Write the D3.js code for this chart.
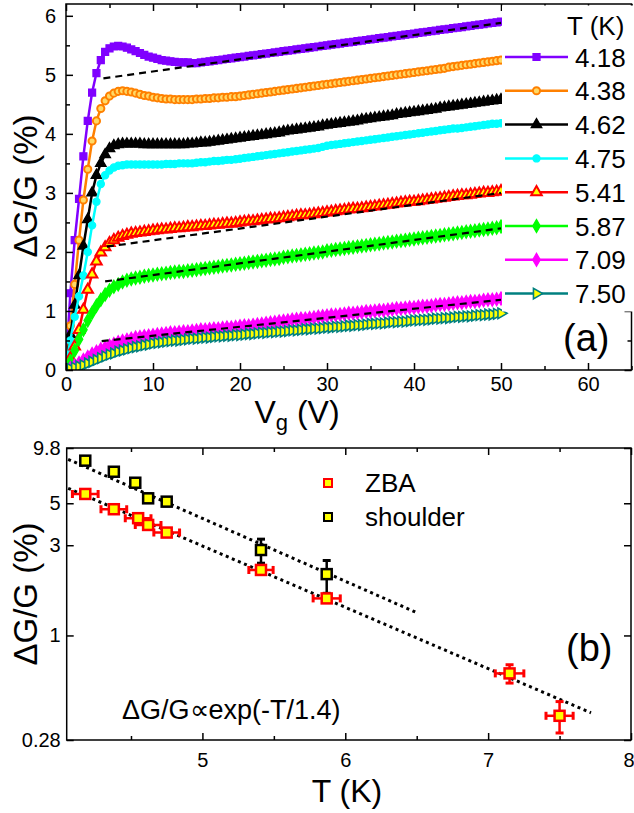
<!DOCTYPE html>
<html><head><meta charset="utf-8">
<script src="https://cdn.jsdelivr.net/npm/d3@7"></script>
<style>
body{margin:0;background:#fff}
svg{display:block}
text{font-family:Arial,"Liberation Sans",Helvetica,sans-serif;fill:#000}
</style>
</head><body>
<svg id="c" width="634" height="813"></svg>
<script>
// ---------------- DATA (panel a) ----------------
const vg = [0,0.5,1,1.5,2,2.5,3,3.5,4,4.5,5,5.5,6,6.5,7,7.5,8,8.5,9,9.5,10,10.5,11,11.5,12,12.5,13,13.5,14,14.5,15,15.5,16,16.5,17,17.5,18,18.5,19,19.5,20,20.5,21,21.5,22,22.5,23,23.5,24,24.5,25,25.5,26,26.5,27,27.5,28,28.5,29,29.5,30,30.5,31,31.5,32,32.5,33,33.5,34,34.5,35,35.5,36,36.5,37,37.5,38,38.5,39,39.5,40,40.5,41,41.5,42,42.5,43,43.5,44,44.5,45,45.5,46,46.5,47,47.5,48,48.5,49,49.5,50];
const temps = ["4.18","4.38","4.62","4.75","5.41","5.87","7.09","7.50"];
const g418 = [0.10,1.30,2.20,2.90,3.62,4.22,4.70,5.03,5.25,5.39,
 5.45,5.48,5.49,5.48,5.46,5.43,5.40,5.37,5.34,5.31,
 5.29,5.27,5.25,5.24,5.23,5.22,5.21,5.21,5.21,5.20,
 5.20,5.21,5.22,5.23,5.24,5.25,5.26,5.27,5.28,5.29,
 5.30,5.31,5.32,5.33,5.34,5.35,5.36,5.37,5.38,5.39,
 5.40,5.41,5.42,5.43,5.44,5.45,5.46,5.47,5.48,5.49,
 5.50,5.51,5.52,5.53,5.54,5.55,5.56,5.57,5.58,5.59,
 5.60,5.61,5.62,5.63,5.64,5.65,5.66,5.67,5.68,5.69,
 5.70,5.71,5.72,5.73,5.74,5.75,5.76,5.77,5.78,5.79,
 5.80,5.81,5.82,5.83,5.84,5.85,5.86,5.87,5.88,5.89,5.90];
const g438 = [0.15,0.75,1.45,2.20,2.88,3.40,3.88,4.22,4.43,4.56,
 4.64,4.69,4.72,4.73,4.72,4.71,4.69,4.67,4.65,4.64,
 4.62,4.61,4.60,4.59,4.59,4.58,4.58,4.58,4.58,4.58,
 4.59,4.59,4.60,4.60,4.61,4.61,4.62,4.62,4.63,4.63,
 4.64,4.65,4.66,4.67,4.68,4.69,4.70,4.71,4.72,4.73,
 4.74,4.75,4.76,4.77,4.78,4.79,4.80,4.81,4.82,4.83,
 4.84,4.85,4.86,4.87,4.88,4.89,4.90,4.91,4.92,4.93,
 4.94,4.95,4.96,4.97,4.98,4.99,5.00,5.01,5.02,5.03,
 5.04,5.05,5.06,5.07,5.08,5.09,5.10,5.11,5.13,5.14,
 5.15,5.16,5.17,5.18,5.19,5.20,5.21,5.22,5.23,5.24,5.25];
const g462 = [0.10,0.60,1.10,1.60,2.10,2.55,3.00,3.30,3.50,3.65,
 3.75,3.80,3.82,3.83,3.83,3.83,3.83,3.83,3.82,3.82,
 3.82,3.82,3.82,3.82,3.82,3.82,3.82,3.82,3.83,3.83,
 3.84,3.85,3.85,3.86,3.87,3.88,3.89,3.90,3.91,3.92,
 3.93,3.94,3.95,3.96,3.97,3.98,3.99,4.00,4.01,4.02,
 4.04,4.05,4.06,4.07,4.08,4.09,4.10,4.11,4.12,4.14,
 4.15,4.16,4.17,4.18,4.19,4.20,4.21,4.22,4.24,4.25,
 4.26,4.27,4.28,4.29,4.30,4.31,4.33,4.34,4.35,4.36,
 4.37,4.38,4.39,4.40,4.41,4.42,4.44,4.45,4.46,4.47,
 4.48,4.49,4.50,4.51,4.52,4.53,4.54,4.55,4.56,4.57,4.58];
const g475 = [0.10,0.50,0.90,1.25,1.60,2.00,2.45,2.85,3.15,3.30,
 3.38,3.43,3.46,3.47,3.48,3.48,3.48,3.48,3.48,3.48,
 3.48,3.48,3.48,3.49,3.49,3.49,3.50,3.50,3.50,3.50,
 3.51,3.52,3.52,3.53,3.54,3.54,3.55,3.56,3.56,3.57,
 3.58,3.59,3.60,3.61,3.62,3.63,3.64,3.65,3.66,3.67,
 3.68,3.69,3.70,3.71,3.72,3.73,3.74,3.75,3.76,3.78,
 3.80,3.81,3.82,3.83,3.84,3.85,3.86,3.87,3.88,3.89,
 3.90,3.91,3.92,3.93,3.94,3.95,3.96,3.97,3.98,3.99,
 4.00,4.01,4.02,4.03,4.04,4.05,4.06,4.07,4.08,4.09,
 4.09,4.10,4.11,4.12,4.13,4.14,4.15,4.16,4.17,4.17,4.18];
const g541 = [0.05,0.20,0.40,0.68,1.02,1.36,1.62,1.84,1.99,2.08,
 2.15,2.20,2.24,2.27,2.29,2.31,2.32,2.33,2.34,2.35,
 2.36,2.37,2.38,2.38,2.39,2.40,2.40,2.41,2.42,2.42,
 2.43,2.44,2.44,2.45,2.46,2.46,2.47,2.48,2.48,2.49,
 2.50,2.51,2.52,2.52,2.53,2.54,2.55,2.56,2.56,2.57,
 2.58,2.59,2.60,2.61,2.62,2.62,2.63,2.64,2.65,2.66,
 2.67,2.68,2.69,2.70,2.71,2.72,2.73,2.73,2.74,2.75,
 2.76,2.77,2.78,2.79,2.80,2.81,2.82,2.83,2.84,2.85,
 2.85,2.86,2.87,2.88,2.89,2.90,2.91,2.92,2.93,2.94,
 2.95,2.96,2.96,2.97,2.98,2.99,3.00,3.00,3.01,3.02,3.03];
const g587 = [0.03,0.15,0.33,0.52,0.68,0.84,0.97,1.09,1.19,1.28,
 1.35,1.41,1.45,1.49,1.52,1.54,1.56,1.57,1.59,1.60,
 1.61,1.62,1.63,1.64,1.65,1.66,1.67,1.67,1.68,1.69,
 1.70,1.71,1.72,1.73,1.74,1.75,1.76,1.77,1.78,1.79,
 1.80,1.81,1.82,1.83,1.84,1.85,1.86,1.87,1.88,1.89,
 1.91,1.92,1.93,1.94,1.95,1.96,1.97,1.98,1.99,2.00,
 2.02,2.03,2.04,2.05,2.06,2.07,2.08,2.09,2.10,2.11,
 2.12,2.13,2.14,2.15,2.16,2.17,2.18,2.19,2.20,2.21,
 2.22,2.23,2.24,2.25,2.26,2.27,2.28,2.29,2.30,2.31,
 2.32,2.33,2.34,2.35,2.36,2.37,2.38,2.39,2.40,2.41,2.43];
const g709 = [0.00,0.03,0.07,0.12,0.17,0.22,0.27,0.31,0.35,0.38,
 0.41,0.44,0.47,0.49,0.51,0.53,0.55,0.56,0.57,0.58,
 0.59,0.60,0.61,0.62,0.63,0.63,0.64,0.65,0.65,0.66,
 0.67,0.68,0.68,0.69,0.70,0.70,0.71,0.72,0.72,0.73,
 0.74,0.75,0.75,0.76,0.77,0.78,0.79,0.80,0.81,0.82,
 0.83,0.84,0.85,0.86,0.87,0.87,0.88,0.89,0.90,0.91,
 0.92,0.93,0.93,0.94,0.95,0.96,0.96,0.97,0.98,0.99,
 0.99,1.00,1.01,1.01,1.02,1.03,1.04,1.04,1.05,1.06,
 1.06,1.07,1.08,1.08,1.09,1.10,1.11,1.11,1.12,1.13,
 1.14,1.14,1.15,1.16,1.16,1.17,1.18,1.19,1.19,1.20,1.21];
const g750 = [0.00,0.02,0.04,0.06,0.08,0.11,0.14,0.17,0.20,0.23,
 0.26,0.28,0.31,0.33,0.35,0.37,0.39,0.40,0.42,0.43,
 0.45,0.46,0.47,0.48,0.49,0.50,0.50,0.51,0.52,0.53,
 0.53,0.54,0.55,0.55,0.56,0.57,0.57,0.58,0.58,0.59,
 0.59,0.60,0.61,0.61,0.62,0.63,0.63,0.64,0.64,0.65,
 0.65,0.66,0.67,0.67,0.68,0.69,0.69,0.70,0.70,0.71,
 0.72,0.72,0.73,0.73,0.74,0.75,0.75,0.76,0.76,0.77,
 0.78,0.78,0.79,0.79,0.80,0.81,0.81,0.82,0.82,0.83,
 0.84,0.84,0.85,0.85,0.86,0.87,0.87,0.88,0.88,0.89,
 0.90,0.90,0.91,0.91,0.92,0.93,0.93,0.94,0.94,0.95,0.96];
const seriesA = [g418,g438,g462,g475,g541,g587,g709,g750];
// linear fits (dashed) for 4.18, 5.41, 5.87, 7.09
const fitV0 = [4.3, 4.7, 4.5, 4.1];
const fitY0 = [4.94, 2.09, 1.50, 0.49];
const fitV1 = [50, 50, 50, 50];
const fitY1 = [5.88, 3.00, 2.40, 1.19];
const xTicksA = [0,10,20,30,40,50,60];
const yTicksA = [0,1,2,3,4,5,6];

// ---------------- DATA (panel b) ----------------
const zbaT   = [4.18, 4.38, 4.55, 4.62, 4.75, 5.41, 5.87, 7.15, 7.50];
const zbaV   = [5.60, 4.65, 4.17, 3.84, 3.50, 2.22, 1.57, 0.63, 0.376];
const zbaTe  = [0.09, 0.09, 0.09, 0.09, 0.09, 0.085, 0.095, 0.10, 0.095];
const zbaLo  = [5.60, 4.65, 4.17, 3.84, 3.50, 2.22, 1.57, 0.56, 0.305];
const zbaHi  = [5.60, 4.65, 4.17, 3.84, 3.50, 2.22, 1.57, 0.70, 0.447];
const shT    = [4.18, 4.38, 4.53, 4.62, 4.75, 5.41, 5.87];
const shV    = [8.40, 7.34, 6.42, 5.31, 5.10, 2.83, 2.11];
const shLo   = [8.40, 7.34, 6.42, 5.05, 4.85, 2.41, 1.67];
const shHi   = [8.40, 7.34, 6.42, 5.60, 5.35, 3.23, 2.49];
const fitBT0 = [4.06, 4.06];      // shoulder, ZBA
const fitBV0 = [8.54, 6.00];
const fitBT1 = [6.50, 7.72];
const fitBV1 = [1.32, 0.39];
const xTicksB = [5,6,7,8];
const xMinorB = [4.5,5.5,6.5,7.5];
const yTicksB = [0.28,1,3,5,9.8];

// ---------------- STYLES ----------------
const colA  = ["#8000ff","#ff8000","#000000","#00ffff","#ff0000","#00ff00","#ff00ff","#008080"];
const fillA = ["#8000ff","#ffd966","#000000","#00ffff","#ffff00","#00ff00","#ff00ff","#ffff00"];
const shapeA = ["square","circle","tri","circle","tri","diamond","diamond","triR"];
const strokeWA = [1.3,2,1.3,1.3,2,1.3,1.3,1.6];

const svg = d3.select("#c");
function symPath(shape, size){
  const t = {square:d3.symbolSquare, circle:d3.symbolCircle, tri:d3.symbolTriangle,
             triR:d3.symbolTriangle, diamond:d3.symbolDiamond}[shape];
  return d3.symbol().type(t).size(size)();
}

// ================= PANEL A =================
const xA = d3.scaleLinear().domain([0,65]).range([66,631.5]);
const yA = d3.scaleLinear().domain([0,6.2]).range([370,4]);
const gA = svg.append("g");
svg.append("defs").append("clipPath").attr("id","clipA").append("rect")
  .attr("x",66).attr("y",4).attr("width",565.5).attr("height",366);

const plotA = gA.append("g").attr("clip-path","url(#clipA)");
const line = d3.line().x((d,i)=>xA(vg[i])).y(d=>yA(d));
seriesA.forEach((s,k)=>{
  const g = plotA.append("g");
  g.append("path").attr("d",line(s)).attr("fill","none")
    .attr("stroke",colA[k]).attr("stroke-width",2.5);
  g.selectAll("path.m").data(s).enter().append("path").attr("class","m")
    .attr("d",symPath(shapeA[k], shapeA[k]==="circle"?40:48))
    .attr("transform",(d,i)=>`translate(${xA(vg[i])},${yA(d)})` + (shapeA[k]==="triR"?" rotate(90)":""))
    .attr("fill",fillA[k]).attr("stroke",colA[k]).attr("stroke-width",strokeWA[k]);
});
fitV0.forEach((v,i)=>{
  plotA.append("line").attr("x1",xA(v)).attr("y1",yA(fitY0[i]))
    .attr("x2",xA(fitV1[i])).attr("y2",yA(fitY1[i]))
    .attr("stroke","#000").attr("stroke-width",2.2).attr("stroke-dasharray","7,5");
});

// axes A
function styleAxis(g, fs){
  g.select(".domain").remove();
  g.selectAll(".tick line").attr("stroke","#000").attr("stroke-width",1.5);
  g.selectAll("text").attr("font-size",fs).attr("font-family","Arial, 'Liberation Sans', sans-serif").attr("fill","#000");
}
gA.append("g").attr("transform","translate(0,370)")
  .call(d3.axisBottom(xA).tickValues(xTicksA).tickSize(-7).tickPadding(7).tickFormat(d3.format("d")))
  .call(g=>styleAxis(g,20));
gA.append("g").attr("transform","translate(0,370)")
  .call(d3.axisBottom(xA).tickValues([5,15,25,35,45,55,65]).tickSize(-4).tickFormat(""))
  .call(g=>styleAxis(g,20));
gA.append("g").attr("transform","translate(0,4)")
  .call(d3.axisTop(xA).tickValues(xTicksA).tickSize(-7).tickFormat(""))
  .call(g=>styleAxis(g,20));
gA.append("g").attr("transform","translate(0,4)")
  .call(d3.axisTop(xA).tickValues([5,15,25,35,45,55,65]).tickSize(-4).tickFormat(""))
  .call(g=>styleAxis(g,20));
gA.append("g").attr("transform","translate(66,0)")
  .call(d3.axisLeft(yA).tickValues(yTicksA).tickSize(-7).tickPadding(10).tickFormat(d3.format("d")))
  .call(g=>styleAxis(g,20));
gA.append("g").attr("transform","translate(66,0)")
  .call(d3.axisLeft(yA).tickValues([0.5,1.5,2.5,3.5,4.5,5.5]).tickSize(-4).tickFormat(""))
  .call(g=>styleAxis(g,20));
gA.append("g").attr("transform","translate(631.5,0)")
  .call(d3.axisRight(yA).tickValues(yTicksA).tickSize(-7).tickFormat(""))
  .call(g=>styleAxis(g,20));
gA.append("g").attr("transform","translate(631.5,0)")
  .call(d3.axisRight(yA).tickValues([0.5,1.5,2.5,3.5,4.5,5.5]).tickSize(-4).tickFormat(""))
  .call(g=>styleAxis(g,20));
gA.append("rect").attr("x",66).attr("y",4).attr("width",565.5).attr("height",366)
  .attr("fill","none").attr("stroke","#000").attr("stroke-width",1.5);

// legend A (white box covering frame)
gA.append("rect").attr("x",502).attr("y",5.5).attr("width",132).attr("height",306).attr("fill","#fff");
gA.append("text").attr("x",567).attr("y",35).attr("font-size",26).text("T (K)");
temps.forEach((t,k)=>{
  const y = 57 + k*33.8;
  gA.append("line").attr("x1",505).attr("x2",568).attr("y1",y).attr("y2",y)
    .attr("stroke",colA[k]).attr("stroke-width",2.5);
  gA.append("path").attr("d",symPath(shapeA[k], shapeA[k]==="circle"?40:48))
    .attr("transform",`translate(536.5,${y})`+(shapeA[k]==="triR"?" rotate(90)":""))
    .attr("fill",fillA[k]).attr("stroke",colA[k]).attr("stroke-width",strokeWA[k]);
  gA.append("text").attr("x",575).attr("y",y+9.5).attr("font-size",26).text(t);
});
gA.append("text").attr("x",563).attr("y",351).attr("font-size",38).text("(a)");

// axis titles A
gA.append("text").attr("transform","translate(37,186) rotate(-90)").attr("text-anchor","middle")
  .attr("font-size",33).text("ΔG/G (%)");
const xt = gA.append("text").attr("x",297).attr("y",423).attr("text-anchor","middle").attr("font-size",32);
xt.append("tspan").text("V");
xt.append("tspan").attr("font-size",22).attr("dy",7).text("g");
xt.append("tspan").attr("dy",-7).text(" (V)");

// ================= PANEL B =================
const xB = d3.scaleLinear().domain([4.05,8]).range([66.7,631]);
const yB = d3.scaleLog().domain([0.28,9.8]).range([740,448]);
const gB = svg.append("g");
svg.select("defs").append("clipPath").attr("id","clipB").append("rect")
  .attr("x",66.7).attr("y",448).attr("width",564.3).attr("height",292);

gB.append("g").attr("transform","translate(0,740)")
  .call(d3.axisBottom(xB).tickValues(xTicksB).tickSize(-7).tickPadding(13).tickFormat(d3.format("d")))
  .call(g=>styleAxis(g,20))
  .call(g=>g.selectAll(".tick text").filter(d=>d===8).attr("text-anchor","end").attr("x",3));
gB.append("g").attr("transform","translate(0,740)")
  .call(d3.axisBottom(xB).tickValues(xMinorB).tickSize(-4).tickFormat(""))
  .call(g=>styleAxis(g,20));
gB.append("g").attr("transform","translate(0,448)")
  .call(d3.axisTop(xB).tickValues(xTicksB).tickSize(-7).tickFormat(""))
  .call(g=>styleAxis(g,20));
gB.append("g").attr("transform","translate(0,448)")
  .call(d3.axisTop(xB).tickValues(xMinorB).tickSize(-4).tickFormat(""))
  .call(g=>styleAxis(g,20));
gB.append("g").attr("transform","translate(66.7,0)")
  .call(d3.axisLeft(yB).tickValues(yTicksB).tickSize(-7).tickPadding(6).tickFormat(d=>String(d)))
  .call(g=>styleAxis(g,20));
gB.append("g").attr("transform","translate(631,0)")
  .call(d3.axisRight(yB).tickValues(yTicksB).tickSize(-7).tickFormat(""))
  .call(g=>styleAxis(g,20));
gB.append("rect").attr("x",66.7).attr("y",448).attr("width",564.3).attr("height",292)
  .attr("fill","none").attr("stroke","#000").attr("stroke-width",1.5);

const plotB = gB.append("g").attr("clip-path","url(#clipB)");
// fit lines
fitBT0.forEach((t,i)=>{
  plotB.append("line").attr("x1",xB(t)).attr("y1",yB(fitBV0[i]))
    .attr("x2",xB(fitBT1[i])).attr("y2",yB(fitBV1[i]))
    .attr("stroke","#000").attr("stroke-width",3).attr("stroke-dasharray","3,3.6");
});
// shoulder error bars
shT.forEach((t,i)=>{
  const x = xB(t);
  if (shHi[i] !== shLo[i]) {
    plotB.append("line").attr("x1",x).attr("x2",x).attr("y1",yB(shHi[i])).attr("y2",yB(shLo[i]))
      .attr("stroke","#000").attr("stroke-width",2.5);
    [shHi[i],shLo[i]].forEach(v=>plotB.append("line").attr("x1",x-4).attr("x2",x+4)
      .attr("y1",yB(v)).attr("y2",yB(v)).attr("stroke","#000").attr("stroke-width",3));
  }
});
// ZBA error bars
zbaT.forEach((t,i)=>{
  const x = xB(t), y = yB(zbaV[i]);
  const x0 = xB(t - zbaTe[i]), x1 = xB(t + zbaTe[i]);
  plotB.append("line").attr("x1",x0).attr("x2",x1).attr("y1",y).attr("y2",y)
    .attr("stroke","#ff0000").attr("stroke-width",2.5);
  [x0,x1].forEach(xx=>plotB.append("line").attr("x1",xx).attr("x2",xx).attr("y1",y-4).attr("y2",y+4)
    .attr("stroke","#ff0000").attr("stroke-width",3));
  if (zbaHi[i] !== zbaLo[i]) {
    plotB.append("line").attr("x1",x).attr("x2",x).attr("y1",yB(zbaHi[i])).attr("y2",yB(zbaLo[i]))
      .attr("stroke","#ff0000").attr("stroke-width",2.5);
    [zbaHi[i],zbaLo[i]].forEach(v=>plotB.append("line").attr("x1",x-4).attr("x2",x+4)
      .attr("y1",yB(v)).attr("y2",yB(v)).attr("stroke","#ff0000").attr("stroke-width",3));
  }
});
zbaT.forEach((t,i)=>{
  plotB.append("rect").attr("x",xB(t)-5).attr("y",yB(zbaV[i])-5).attr("width",10).attr("height",10)
    .attr("fill","#ffff00").attr("stroke","#ff0000").attr("stroke-width",2.5);
});
shT.forEach((t,i)=>{
  plotB.append("rect").attr("x",xB(t)-5).attr("y",yB(shV[i])-5).attr("width",10).attr("height",10)
    .attr("fill","#ffff00").attr("stroke","#000").attr("stroke-width",2.5);
});

// legend B
gB.append("rect").attr("x",324).attr("y",479).attr("width",8).attr("height",8)
  .attr("fill","#ffff00").attr("stroke","#ff0000").attr("stroke-width",2);
gB.append("text").attr("x",365).attr("y",492).attr("font-size",26).text("ZBA");
gB.append("rect").attr("x",324).attr("y",513).attr("width",8).attr("height",8)
  .attr("fill","#ffff00").attr("stroke","#000").attr("stroke-width",2);
gB.append("text").attr("x",365).attr("y",526).attr("font-size",26).text("shoulder");

gB.append("text").attr("x",566).attr("y",661).attr("font-size",38).text("(b)");
gB.append("text").attr("x",122).attr("y",719).attr("font-size",27).text("ΔG/G∝exp(-T/1.4)");

gB.append("text").attr("transform","translate(37,594) rotate(-90)").attr("text-anchor","middle")
  .attr("font-size",33).text("ΔG/G (%)");
gB.append("text").attr("x",347).attr("y",802).attr("text-anchor","middle").attr("font-size",32).text("T (K)");
</script>
</body></html>
